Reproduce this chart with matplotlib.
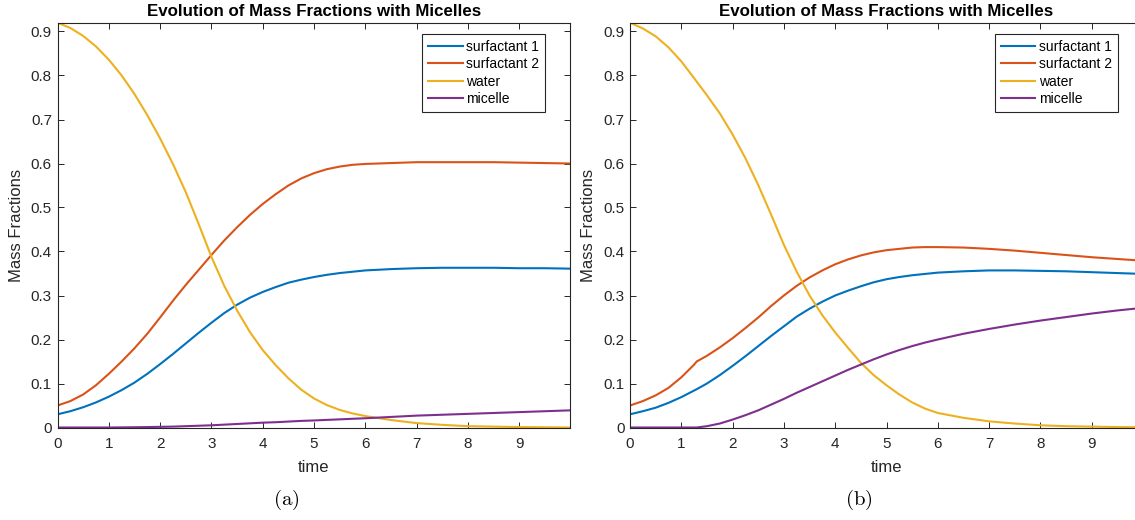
import matplotlib
matplotlib.use('Agg')
from matplotlib import pyplot as plt

plt.rcParams['font.family'] = ['Liberation Sans', 'DejaVu Sans']
plt.rcParams['mathtext.fontset'] = 'cm'

# time samples
t_a = [0, 0.25, 0.5, 0.75, 1.0, 1.25, 1.5, 1.75, 2.0, 2.25, 2.5, 2.75, 3.0,
       3.25, 3.5, 3.75, 4.0, 4.25, 4.5, 4.75, 5.0, 5.25, 5.5, 5.75, 6.0,
       6.5, 7.0, 7.5, 8.0, 8.5, 9.0, 9.5, 10.0]
t_b = [0, 0.25, 0.5, 0.75, 1.0, 1.25, 1.3, 1.5, 1.75, 2.0, 2.25, 2.5, 2.75, 3.0,
       3.25, 3.5, 3.75, 4.0, 4.25, 4.5, 4.75, 5.0, 5.25, 5.5, 5.75, 6.0,
       6.5, 7.0, 7.5, 8.0, 8.5, 9.0, 9.5, 10.0]

# (a) without micelle growth
surf1_a = [0.030, 0.037, 0.046, 0.057, 0.070, 0.085, 0.102, 0.122, 0.144, 0.167,
           0.191, 0.215, 0.238, 0.260, 0.279, 0.295, 0.308, 0.319, 0.329, 0.336,
           0.342, 0.347, 0.351, 0.354, 0.357, 0.360, 0.362, 0.363, 0.363, 0.363,
           0.362, 0.362, 0.361]
surf2_a = [0.050, 0.060, 0.075, 0.096, 0.122, 0.150, 0.180, 0.213, 0.250, 0.288,
           0.324, 0.358, 0.392, 0.425, 0.455, 0.483, 0.508, 0.530, 0.550, 0.566,
           0.578, 0.587, 0.593, 0.597, 0.599, 0.601, 0.603, 0.603, 0.603, 0.603,
           0.602, 0.601, 0.600]
water_a = [0.920, 0.908, 0.890, 0.866, 0.836, 0.800, 0.758, 0.710, 0.657, 0.599,
           0.535, 0.463, 0.388, 0.322, 0.266, 0.217, 0.176, 0.142, 0.112, 0.086,
           0.066, 0.051, 0.040, 0.032, 0.026, 0.017, 0.010, 0.006, 0.003, 0.002,
           0.001, 0.0005, 0.0]
micelle_a = [0, 0, 0, 0, 0, 0.0003, 0.0006, 0.001, 0.0015, 0.002, 0.003, 0.004,
             0.005, 0.0065, 0.008, 0.0095, 0.011, 0.012, 0.0135, 0.015, 0.016,
             0.0173, 0.0185, 0.0198, 0.021, 0.024, 0.027, 0.029, 0.031, 0.033,
             0.035, 0.037, 0.039]

# (b) with micelle growth
surf1_b = [0.030, 0.037, 0.045, 0.056, 0.069, 0.084, 0.087, 0.100, 0.119, 0.140,
           0.162, 0.185, 0.208, 0.230, 0.252, 0.270, 0.286, 0.300, 0.311, 0.321,
           0.330, 0.337, 0.342, 0.346, 0.349, 0.352, 0.355, 0.357, 0.357, 0.356,
           0.355, 0.353, 0.351, 0.349]
surf2_b = [0.050, 0.060, 0.073, 0.090, 0.114, 0.143, 0.150, 0.163, 0.182, 0.203,
           0.226, 0.250, 0.276, 0.300, 0.322, 0.341, 0.357, 0.371, 0.382, 0.391,
           0.398, 0.403, 0.406, 0.409, 0.410, 0.410, 0.409, 0.406, 0.402, 0.397,
           0.392, 0.387, 0.383, 0.379]
water_b = [0.920, 0.907, 0.889, 0.864, 0.832, 0.794, 0.786, 0.755, 0.714, 0.666,
           0.612, 0.551, 0.484, 0.415, 0.354, 0.300, 0.255, 0.216, 0.181, 0.147,
           0.119, 0.096, 0.075, 0.057, 0.043, 0.033, 0.022, 0.014, 0.009, 0.005,
           0.003, 0.002, 0.001, 0.0005]
micelle_b = [0, 0, 0, 0, 0, 0, 0, 0.003, 0.009, 0.018, 0.028, 0.039, 0.052, 0.065,
             0.079, 0.092, 0.105, 0.118, 0.131, 0.143, 0.155, 0.166, 0.176, 0.185,
             0.193, 0.200, 0.213, 0.224, 0.234, 0.243, 0.251, 0.259, 0.266, 0.272]

names = ['surfactant 1', 'surfactant 2', 'water', 'micelle']
colors = ['#0072BD', '#D95319', '#EDB120', '#7E2F8E']
xticks = [0, 1, 2, 3, 4, 5, 6, 7, 8, 9]
yticks = [0, 0.1, 0.2, 0.3, 0.4, 0.5, 0.6, 0.7, 0.8, 0.9]
yticklabels = ['0', '0.1', '0.2', '0.3', '0.4', '0.5', '0.6', '0.7', '0.8', '0.9']
dark = '#262626'

fig = plt.figure(figsize=(11.35, 5.2), dpi=100)
ax_a = fig.add_axes([57.5 / 1135, 92.5 / 520, 512.5 / 1135, 404.8 / 520])
ax_b = fig.add_axes([630 / 1135, 92.5 / 520, 512.5 / 1135, 404.8 / 520])

panels = [(ax_a, t_a, [surf1_a, surf2_a, water_a, micelle_a]),
          (ax_b, t_b, [surf1_b, surf2_b, water_b, micelle_b])]

for ax, t, series in panels:
    for y, c, n in zip(series, colors, names):
        ax.plot(t, y, color=c, lw=1.5, label=n)
    ax.set_xlim(0, 9.99)
    ax.set_ylim(0, 0.92)
    ax.set_xticks(xticks)
    ax.set_yticks(yticks)
    ax.set_yticklabels(yticklabels)
    ax.tick_params(direction='in', length=4, width=0.7, colors=dark,
                   labelsize=11, top=True, right=True)
    ax.tick_params(axis='x', pad=7)
    ax.tick_params(axis='y', pad=4)
    for s in ax.spines.values():
        s.set_color(dark)
        s.set_linewidth(0.8)
    ax.set_xlabel('time', fontsize=12, color=dark, labelpad=6)
    ax.set_ylabel('Mass Fractions', fontsize=12, color=dark, labelpad=5)
    ax.set_title('Evolution of Mass Fractions with Micelles', fontsize=12.2,
                 fontweight='bold', pad=5)
    leg = ax.legend(loc='upper right', bbox_to_anchor=(0.952, 0.972), fontsize=10,
                    fancybox=False, framealpha=1, edgecolor=dark,
                    handlelength=2.5, handletextpad=0.25, labelspacing=0.24,
                    borderpad=0.42, borderaxespad=0)
    leg.get_frame().set_linewidth(0.8)

fig.text(0.252, 0.038, r'$(\mathrm{a})$', fontsize=15, ha='center', va='center')
fig.text(0.757, 0.038, r'$(\mathrm{b})$', fontsize=15, ha='center', va='center')

fig.savefig('out.png', dpi=100)
